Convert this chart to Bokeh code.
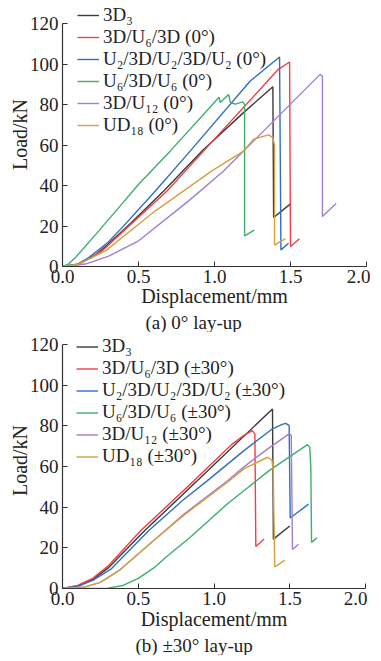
from bokeh.plotting import figure
from bokeh.models import Legend, LegendItem, Title, FixedTicker, NumeralTickFormatter
from bokeh.layouts import column
from bokeh.embed import file_html
from bokeh.resources import INLINE

FONT = "Liberation Serif"

x_ticks = [0, 0.5, 1.0, 1.5, 2.0]
y_ticks = [0, 20, 40, 60, 80, 100, 120]

colors = ["#3a3a3a", "#ee4045", "#2f6fc0", "#3fae6c", "#a07fd0", "#d6a03e"]

# ---- (a) 0 degree lay-up ----
labels_a = ["3D₃", "3D/U₆/3D (0°)", "U₂/3D/U₂/3D/U₂ (0°)", "U₆/3D/U₆ (0°)",
            "3D/U₁₂ (0°)", "UD₁₈ (0°)"]
a_3d3_x = [0, 0.1, 0.2, 0.3, 0.45, 0.666, 0.918, 1.191, 1.384, 1.389, 1.498]
a_3d3_y = [0, 1.2, 4.8, 11.0, 21.5, 37.3, 57.1, 76.0, 88.8, 24.2, 30.8]
a_u6_x = [0, 0.1, 0.26, 0.425, 0.688, 0.929, 1.42, 1.494, 1.5, 1.559]
a_u6_y = [0, 0.8, 7.7, 19.2, 37.3, 57.1, 97.4, 101.0, 9.9, 13.7]
a_u2_x = [0, 0.1, 0.173, 0.3, 0.392, 0.611, 0.841, 1.235, 1.428, 1.437, 1.487]
a_u2_y = [0, 1.2, 4.4, 12.0, 19.2, 37.3, 57.1, 91.6, 103.5, 8.2, 11.5]
a_u6b_x = [0, 0.04, 0.085, 0.239, 0.37, 0.501, 0.71, 1.03, 1.038, 1.093, 1.104,
           1.137, 1.187, 1.198, 1.198, 1.262]
a_u6b_y = [0, 1.2, 4.4, 17.6, 29.1, 40.6, 57.1, 83.6, 81.0, 85.0, 81.0,
           80.2, 81.3, 80.0, 15.1, 18.0]
a_u12_x = [0, 0.15, 0.3, 0.501, 0.83, 1.06, 1.191, 1.695, 1.71, 1.71, 1.8]
a_u12_y = [0, 1.2, 5.0, 12.7, 32.4, 47.2, 57.0, 94.9, 94.0, 24.7, 31.1]
a_ud_x = [0, 0.1, 0.283, 0.611, 0.983, 1.191, 1.257, 1.356, 1.384, 1.395, 1.395, 1.467]
a_ud_y = [0, 1.0, 7.7, 27.5, 47.2, 57.0, 62.9, 65.0, 63.7, 60.0, 10.6, 13.8]

# ---- (b) +-30 degree lay-up ----
labels_b = ["3D₃", "3D/U₆/3D (±30°)", "U₂/3D/U₂/3D/U₂ (±30°)", "U₆/3D/U₆ (±30°)",
            "3D/U₁₂ (±30°)", "UD₁₈ (±30°)"]
b_3d3_x = [0, 0.1, 0.2, 0.3, 0.543, 0.891, 1.386, 1.392, 1.5]
b_3d3_y = [0, 1.2, 4.5, 10.0, 28.5, 53.1, 88.4, 24.3, 30.8]
b_u6_x = [0, 0.1, 0.2, 0.3, 0.517, 0.869, 1.122, 1.2, 1.254, 1.27, 1.276, 1.331]
b_u6_y = [0, 1.5, 5.0, 11.0, 28.5, 53.1, 71.2, 75.5, 77.7, 76.0, 20.7, 24.4]
b_u2_x = [0, 0.1, 0.2, 0.319, 0.57, 0.792, 0.957, 1.2, 1.386, 1.45, 1.474, 1.496, 1.503, 1.624]
b_u2_y = [0, 1.0, 4.0, 9.5, 28.5, 43.3, 53.1, 68.0, 78.6, 80.8, 81.3, 80.2, 34.7, 41.5]
b_u6b_x = [0, 0.3, 0.4, 0.5, 0.6, 0.7, 0.847, 1.089, 1.364, 1.617, 1.632, 1.639, 1.644, 1.679]
b_u6b_y = [0, 0.2, 1.5, 5.0, 10.0, 16.5, 25.5, 41.7, 58.0, 70.8, 69.5, 60.0, 22.7, 24.9]
b_u12_x = [0, 0.15, 0.25, 0.374, 0.627, 0.8, 1.089, 1.2, 1.35, 1.496, 1.51, 1.518, 1.558]
b_u12_y = [0, 0.8, 3.0, 8.9, 25.2, 36.5, 53.0, 60.0, 68.5, 76.1, 75.5, 19.2, 21.8]
b_ud_x = [0, 0.15, 0.25, 0.374, 0.627, 0.8, 1.089, 1.2, 1.353, 1.382, 1.391, 1.401, 1.467]
b_ud_y = [0, 0.8, 3.0, 8.9, 25.2, 36.0, 52.3, 59.0, 64.6, 63.3, 58.0, 10.6, 14.0]

series_a = [(a_3d3_x, a_3d3_y), (a_u6_x, a_u6_y), (a_u2_x, a_u2_y),
            (a_u6b_x, a_u6b_y), (a_u12_x, a_u12_y), (a_ud_x, a_ud_y)]
series_b = [(b_3d3_x, b_3d3_y), (b_u6_x, b_u6_y), (b_u2_x, b_u2_y),
            (b_u6b_x, b_u6b_y), (b_u12_x, b_u12_y), (b_ud_x, b_ud_y)]


def build(series, labels, caption, fw, fh, ymax, left, top, leg_loc, leg_h,
          cap_offset, xlab_standoff, cap_standoff):
    p = figure(frame_width=fw, frame_height=fh, x_range=(0, 2.0), y_range=(0, ymax),
               output_backend="svg", toolbar_location=None,
               min_border_left=left, min_border_top=top, min_border_right=4,
               min_border_bottom=0)
    p.outline_line_color = None
    p.xgrid.visible = False
    p.ygrid.visible = False
    p.background_fill_color = "white"
    items = []
    for (xs, ys), c, lab in zip(series, colors, labels):
        r = p.line(xs, ys, line_color=c, line_width=1.4)
        items.append(LegendItem(label=lab, renderers=[r]))
    for ax in (p.xaxis[0], p.yaxis[0]):
        ax.axis_line_color = "#333333"
        ax.axis_line_width = 1.2
        ax.major_tick_line_color = "#333333"
        ax.major_tick_in = 5
        ax.major_tick_out = 0
        ax.minor_tick_line_color = None
        ax.major_label_text_font = FONT
        ax.major_label_text_font_size = "19px"
        ax.major_label_text_color = "#222222"
        ax.axis_label_text_font = FONT
        ax.axis_label_text_font_size = "20px"
        ax.axis_label_text_font_style = "normal"
        ax.axis_label_text_color = "#222222"
    p.xaxis.ticker = FixedTicker(ticks=x_ticks)
    p.xaxis.formatter = NumeralTickFormatter(format="0.0")
    p.xaxis.bounds = (0, 2.0)
    p.xaxis.major_label_standoff = 3
    p.xaxis.axis_label = "Displacement/mm"
    p.xaxis.axis_label_standoff = xlab_standoff
    p.yaxis.ticker = FixedTicker(ticks=y_ticks)
    p.yaxis.bounds = (0, 120)
    p.yaxis.major_label_standoff = 4
    p.yaxis.axis_label = "Load/kN"
    p.yaxis.axis_label_standoff = -4

    leg = Legend(items=items, location=leg_loc, label_text_font=FONT,
                 label_text_font_size="19px", label_text_color="#222222",
                 glyph_width=22, glyph_height=leg_h, label_height=leg_h,
                 label_standoff=4, spacing=0, padding=0, margin=0,
                 border_line_color=None, background_fill_alpha=0)
    p.add_layout(leg)
    t = Title(text=caption, align="left", offset=cap_offset, text_font=FONT,
              text_font_size="19px", text_font_style="normal", text_color="#222222",
              standoff=cap_standoff)
    p.add_layout(t, "below")
    return p


p1 = build(series_a, labels_a, "(a) 0° lay-up", 304, 264, 130.4, 62, 2, (15, 130), 22, 83, -1, 0)
p2 = build(series_b, labels_b, "(b) ±30° lay-up", 303, 256, 126.0, 60, 0, (14, 121), 21, 73, 0, 0)

layout = column(p1, p2, spacing=0)
open("out.html", "w").write(file_html(layout, INLINE))
